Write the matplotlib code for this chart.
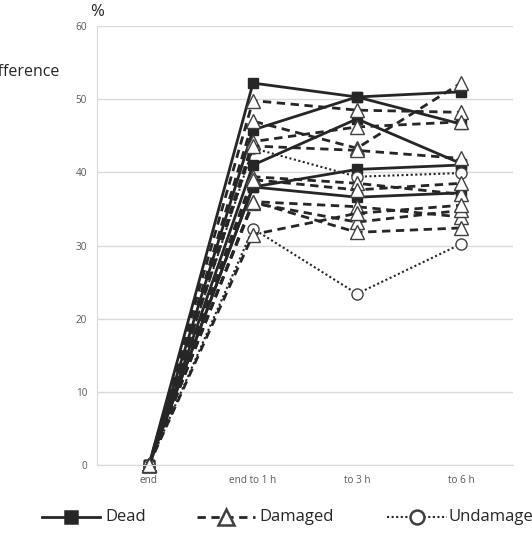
import matplotlib
matplotlib.use("Agg")
import matplotlib.pyplot as plt
from matplotlib.lines import Line2D

plt.rcParams["font.family"] = ["Open Sans", "DejaVu Sans"]

categories = ["end", "end to 1 h", "to 3 h", "to 6 h"]

# % difference per tree, grouped by condition
dead = [
    [0, 52.2, 50.3, 46.6],
    [0, 45.8, 50.3, 51.0],
    [0, 41.0, 47.3, 41.2],
    [0, 38.0, 40.4, 41.0],
    [0, 38.0, 36.6, 37.2],
]
damaged = [
    [0, 47.0, 43.3, 52.2],
    [0, 49.8, 48.5, 48.2],
    [0, 44.2, 46.2, 46.9],
    [0, 43.6, 43.0, 41.9],
    [0, 39.4, 38.5, 37.0],
    [0, 39.0, 37.6, 38.5],
    [0, 36.0, 35.3, 33.9],
    [0, 35.8, 33.2, 34.8],
    [0, 31.5, 34.4, 35.5],
    [0, 36.0, 31.8, 32.4],
]
undamaged = [
    [0, 43.3, 39.4, 39.9],
    [0, 32.3, 23.4, 30.2],
]

line_col = "#262626"
styles = {
    "Dead": dict(ls="-", lw=2.0, marker="s", ms=7, mfc=line_col, mec=line_col, mew=1.0),
    "Damaged": dict(ls=(0, (3, 2)), lw=2.0, marker="^", ms=9.5, mfc="white",
                    mec="#404040", mew=1.0),
    "Undamaged": dict(ls=(0, (1, 1.2)), lw=1.5, marker="o", ms=8, mfc="white",
                      mec="#404040", mew=1.0),
}

fig = plt.figure(figsize=(5.32, 5.33), dpi=100)
ax = fig.add_axes([97 / 532, 1 - 465 / 533, 416 / 532, 439 / 533])

x = [i + 0.5 for i in range(len(categories))]
for series, name in [(dead, "Dead"), (undamaged, "Undamaged"), (damaged, "Damaged")]:
    for vals in series:
        ax.plot(x, vals, color=line_col, clip_on=False, **styles[name])

ax.set_xlim(0, 4)
ax.set_ylim(0, 60)
ax.set_yticks(range(0, 61, 10))
ax.set_xticks(x)
ax.set_xticklabels(categories)
ax.yaxis.grid(True, color="#d9d9d9", lw=1)
ax.set_axisbelow(True)
for side in ["top", "right"]:
    ax.spines[side].set_visible(False)
for side in ["left", "bottom"]:
    ax.spines[side].set_color("#d9d9d9")
ax.tick_params(length=0, labelsize=7.2, colors="#595959", pad=7)

fig.text(97 / 532, 1 - 12 / 533, "%", fontsize=12, ha="center", va="center",
         color="#262626")
fig.text(60 / 532, 1 - 72 / 533, "Difference", fontsize=11.5, ha="right",
         va="center", color="#262626")

# legend drawn by hand so it can run off the right edge like the original
leg_y = 1 - 517 / 533
legend_items = [("Dead", 42, 100, 105), ("Damaged", 197, 255, 259),
                ("Undamaged", 387, 447, 448)]
for name, x0, x1, tx in legend_items:
    st = dict(styles[name])
    marker = st.pop("marker")
    ms, mfc, mec, mew = st.pop("ms"), st.pop("mfc"), st.pop("mec"), st.pop("mew")
    fig.add_artist(Line2D([x0 / 532, x1 / 532], [leg_y, leg_y], color=line_col,
                          transform=fig.transFigure, **st))
    fig.add_artist(Line2D([(x0 + x1) / 2 / 532], [leg_y], marker=marker,
                          ms=ms + 2, mfc=mfc, mec=mec, mew=mew + 0.8, ls="none",
                          transform=fig.transFigure))
    fig.text(tx / 532, leg_y, name, fontsize=12, va="center", ha="left",
             color="#262626")

fig.savefig("out.png", dpi=100)
